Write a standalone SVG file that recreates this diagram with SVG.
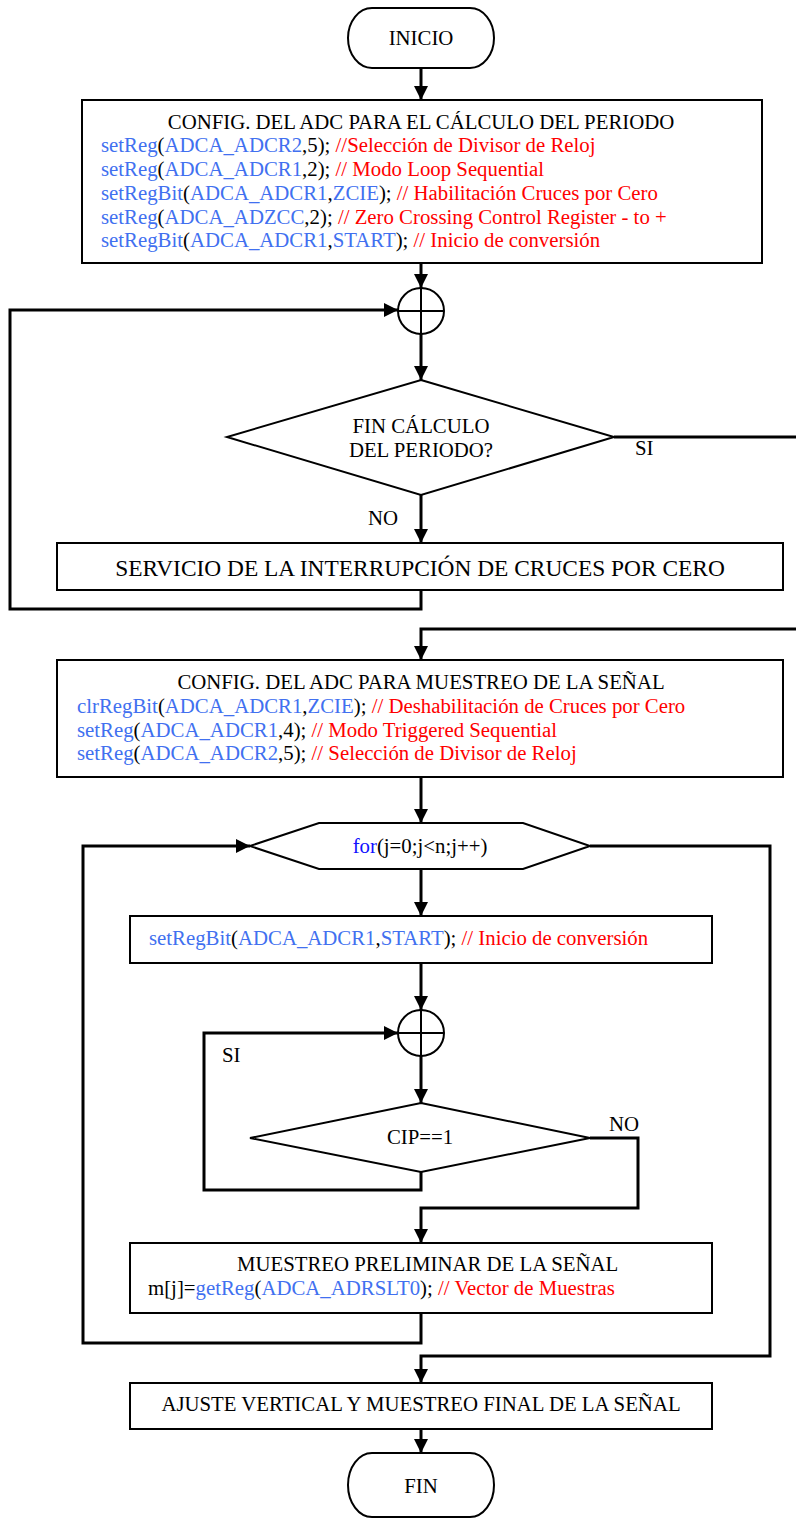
<svg xmlns="http://www.w3.org/2000/svg" width="796" height="1518" viewBox="0 0 796 1518">
  <defs>
    <marker id="arrow" viewBox="0 0 10 10" refX="10" refY="5" markerUnits="userSpaceOnUse" markerWidth="15" markerHeight="14" orient="auto">
      <path d="M0,0 L10,5 L0,10 z" fill="#000"/>
    </marker>
    <style>
      text { font-family: "Liberation Serif", "Times New Roman", serif; font-size: 20.8px; fill: #000; }
      .mid { text-anchor: middle; }
      .big { font-size: 23.4px; }
      .fn { fill: #4170F0; }
      .kw { fill: #1010FF; }
      .cm { fill: #FF0000; }
      .shape { fill: #fff; stroke: #000; stroke-width: 2; }
      .wire { fill: none; stroke: #000; stroke-width: 3; }
      .thin { fill: none; stroke: #000; stroke-width: 2; }
    </style>
  </defs>
  <rect width="796" height="1518" fill="#fff"/>

  <!-- connectors -->
  <g id="connectors">
    <path class="wire" d="M421,68 V100" marker-end="url(#arrow)"/>
    <path class="wire" d="M421,263 V288" marker-end="url(#arrow)"/>
    <path class="wire" d="M421,334 V380" marker-end="url(#arrow)"/>
    <path class="wire" d="M421,495 V543" marker-end="url(#arrow)"/>
    <path class="wire" d="M421,590 V609 H10 V310 H398" marker-end="url(#arrow)"/>
    <path class="wire" d="M614,437 H800 V629 H421 V660" marker-end="url(#arrow)"/>
    <path class="wire" d="M421,777 V823" marker-end="url(#arrow)"/>
    <path class="wire" d="M421,869 V916" marker-end="url(#arrow)"/>
    <path class="wire" d="M421,963 V1010" marker-end="url(#arrow)"/>
    <path class="wire" d="M421,1056 V1103" marker-end="url(#arrow)"/>
    <path class="wire" d="M421,1172 V1190 H204 V1033 H398" marker-end="url(#arrow)"/>
    <path class="wire" d="M590,1138 H638 V1208 H421 V1243" marker-end="url(#arrow)"/>
    <path class="wire" d="M421,1313 V1343 H83 V846 H250" marker-end="url(#arrow)"/>
    <path class="wire" d="M590,846 H770 V1356 H421 V1383" marker-end="url(#arrow)"/>
    <path class="wire" d="M421,1429 V1453" marker-end="url(#arrow)"/>
    <text x="635" y="455">SI</text>
    <text x="368" y="525">NO</text>
    <text x="222" y="1062">SI</text>
    <text x="609" y="1131">NO</text>
  </g>

  <!-- start terminal -->
  <g id="inicio">
    <rect class="shape" x="348" y="8" width="146" height="60" rx="24" ry="30"/>
    <text class="mid" x="421" y="45">INICIO</text>
  </g>

  <!-- ADC setup for period measurement -->
  <g id="config-periodo">
    <rect class="shape" x="82" y="100" width="680" height="163"/>
    <text class="mid" x="421" y="129">CONFIG. DEL ADC PARA EL CÁLCULO DEL PERIODO</text>
    <text x="101" y="152"><tspan class="fn">setReg</tspan>(<tspan class="fn">ADCA_ADCR2</tspan>,5); <tspan class="cm">//Selección de Divisor de Reloj</tspan></text>
    <text x="101" y="176"><tspan class="fn">setReg</tspan>(<tspan class="fn">ADCA_ADCR1</tspan>,2); <tspan class="cm">// Modo Loop Sequential</tspan></text>
    <text x="101" y="200"><tspan class="fn">setRegBit</tspan>(<tspan class="fn">ADCA_ADCR1</tspan>,<tspan class="fn">ZCIE</tspan>); <tspan class="cm">// Habilitación Cruces por Cero</tspan></text>
    <text x="101" y="224"><tspan class="fn">setReg</tspan>(<tspan class="fn">ADCA_ADZCC</tspan>,2); <tspan class="cm">// Zero Crossing Control Register - to +</tspan></text>
    <text x="101" y="247"><tspan class="fn">setRegBit</tspan>(<tspan class="fn">ADCA_ADCR1</tspan>,<tspan class="fn">START</tspan>); <tspan class="cm">// Inicio de conversión</tspan></text>
  </g>

  <!-- merge point 1 -->
  <g id="merge-1">
    <circle class="shape" cx="421" cy="311" r="23"/>
    <path class="thin" d="M398,311 H444 M421,288 V334"/>
  </g>

  <!-- period done? -->
  <g id="fin-calculo">
    <polygon class="shape" points="421,380 614,437 421,495 227,437"/>
    <text class="mid" x="421" y="433">FIN CÁLCULO</text>
    <text class="mid" x="421" y="457">DEL PERIODO?</text>
  </g>

  <!-- zero crossing ISR -->
  <g id="servicio">
    <rect class="shape" x="57" y="543" width="726" height="47"/>
    <text class="mid big" x="420" y="576">SERVICIO DE LA INTERRUPCIÓN DE CRUCES POR CERO</text>
  </g>

  <!-- ADC setup for sampling -->
  <g id="config-muestreo">
    <rect class="shape" x="57" y="660" width="726" height="117"/>
    <text class="mid" x="421" y="689">CONFIG. DEL ADC PARA MUESTREO DE LA SEÑAL</text>
    <text x="77" y="713"><tspan class="fn">clrRegBit</tspan>(<tspan class="fn">ADCA_ADCR1</tspan>,<tspan class="fn">ZCIE</tspan>); <tspan class="cm">// Deshabilitación de Cruces por Cero</tspan></text>
    <text x="77" y="737"><tspan class="fn">setReg</tspan>(<tspan class="fn">ADCA_ADCR1</tspan>,4); <tspan class="cm">// Modo Triggered Sequential</tspan></text>
    <text x="77" y="760"><tspan class="fn">setReg</tspan>(<tspan class="fn">ADCA_ADCR2</tspan>,5); <tspan class="cm">// Selección de Divisor de Reloj</tspan></text>
  </g>

  <!-- sampling loop header -->
  <g id="for-loop">
    <polygon class="shape" points="250,846 319,823 523,823 590,846 523,869 319,869"/>
    <text class="mid" x="420" y="853"><tspan class="kw">for</tspan>(j=0;j&lt;n;j++)</text>
  </g>

  <!-- start conversion -->
  <g id="inicio-conversion">
    <rect class="shape" x="130" y="916" width="582" height="47"/>
    <text x="149" y="945"><tspan class="fn">setRegBit</tspan>(<tspan class="fn">ADCA_ADCR1</tspan>,<tspan class="fn">START</tspan>); <tspan class="cm">// Inicio de conversión</tspan></text>
  </g>

  <!-- merge point 2 -->
  <g id="merge-2">
    <circle class="shape" cx="421" cy="1033" r="23"/>
    <path class="thin" d="M398,1033 H444 M421,1010 V1056"/>
  </g>

  <!-- conversion in progress? -->
  <g id="cip">
    <polygon class="shape" points="421,1103 590,1138 421,1172 250,1138"/>
    <text class="mid" x="420" y="1144">CIP==1</text>
  </g>

  <!-- preliminary sampling -->
  <g id="muestreo-preliminar">
    <rect class="shape" x="130" y="1243" width="582" height="70"/>
    <text x="237" y="1271">MUESTREO PRELIMINAR DE LA SEÑAL</text>
    <text x="148" y="1295">m[j]=<tspan class="fn">getReg</tspan>(<tspan class="fn">ADCA_ADRSLT0</tspan>); <tspan class="cm">// Vector de Muestras</tspan></text>
  </g>

  <!-- final adjustment -->
  <g id="ajuste">
    <rect class="shape" x="130" y="1383" width="582" height="46"/>
    <text class="mid" x="421" y="1411">AJUSTE VERTICAL Y MUESTREO FINAL DE LA SEÑAL</text>
  </g>

  <!-- end terminal -->
  <g id="fin">
    <rect class="shape" x="348" y="1453" width="146" height="64" rx="24" ry="32"/>
    <text class="mid" x="421" y="1493">FIN</text>
  </g>
</svg>
